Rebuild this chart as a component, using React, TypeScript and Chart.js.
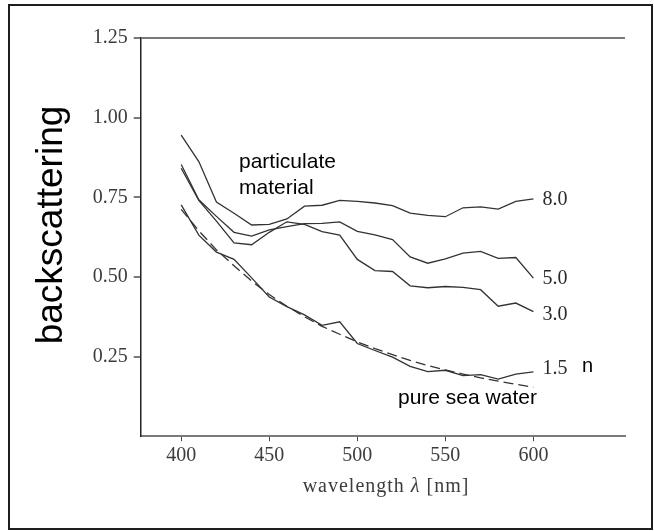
import React, { useEffect, useRef } from "react";
import { Chart, registerables } from "chart.js";

Chart.register(...registerables);

// ---- data ----
const WAVELENGTHS = [400, 410, 420, 430, 440, 450, 460, 470, 480, 490, 500, 510, 520, 530, 540, 550, 560, 570, 580, 590, 600];

const N_8_0 = [0.945, 0.862, 0.735, 0.700, 0.663, 0.665, 0.682, 0.722, 0.725, 0.740, 0.737, 0.732, 0.724, 0.700, 0.693, 0.689, 0.717, 0.720, 0.713, 0.737, 0.745];
const N_5_0 = [0.853, 0.742, 0.690, 0.640, 0.628, 0.648, 0.658, 0.667, 0.668, 0.673, 0.643, 0.632, 0.617, 0.563, 0.543, 0.557, 0.575, 0.580, 0.558, 0.561, 0.496];
const N_3_0 = [0.841, 0.740, 0.675, 0.607, 0.601, 0.640, 0.673, 0.665, 0.642, 0.631, 0.555, 0.520, 0.517, 0.472, 0.466, 0.470, 0.467, 0.460, 0.408, 0.418, 0.391];
const N_1_5 = [0.726, 0.631, 0.578, 0.555, 0.497, 0.437, 0.407, 0.381, 0.348, 0.359, 0.291, 0.269, 0.248, 0.219, 0.203, 0.207, 0.190, 0.193, 0.179, 0.195, 0.202];
const SEA_WATER = [0.712, 0.645, 0.585, 0.535, 0.487, 0.445, 0.408, 0.375, 0.345, 0.320, 0.296, 0.275, 0.256, 0.238, 0.222, 0.208, 0.195, 0.183, 0.173, 0.163, 0.154];

const SERIES = [N_8_0, N_5_0, N_3_0, N_1_5];
const SERIES_LABELS = ["8.0", "5.0", "3.0", "1.5"];
const LABEL_DY = [1, 1, 3, -3];

const X_TICKS = [400, 450, 500, 550, 600];
const Y_TICKS = [0.25, 0.5, 0.75, 1.0, 1.25];
const X_MIN = 377;
const X_MAX = 652;
const Y_MIN = 0;
const Y_MAX = 1.25;

const Y_TITLE = "backscattering";
const X_TITLE_PARTS = ["wavelength ", "\u03bb", " [nm]"];
const ANNOT_PARTICULATE = ["particulate", "material"];
const ANNOT_WATER = "pure sea water";
const ANNOT_N = "n";

const LINE_COLOR = "#333333";
const SERIF = '"Liberation Serif", "DejaVu Serif", serif';
const SANS = '"Liberation Sans", Arial, sans-serif';

const toPoints = (vals: number[]) => vals.map((v, i) => ({ x: WAVELENGTHS[i], y: v }));

const annotationsPlugin = {
  id: "annotations",
  afterDraw(chart: any) {
    const ctx = chart.ctx as CanvasRenderingContext2D;
    const xs = chart.scales.x;
    const ys = chart.scales.y;
    ctx.save();

    // outer frame
    ctx.strokeStyle = "#1e1e1e";
    ctx.lineWidth = 2;
    ctx.strokeRect(9, 5, 643, 524);

    // y title
    ctx.save();
    ctx.translate(52, 225);
    ctx.rotate(-Math.PI / 2);
    ctx.fillStyle = "#000";
    ctx.font = `37px ${SANS}`;
    ctx.textAlign = "center";
    ctx.textBaseline = "middle";
    ctx.fillText(Y_TITLE, 0, 0);
    ctx.restore();

    // x title (with italic lambda)
    ctx.fillStyle = "#3c3c3c";
    ctx.textBaseline = "alphabetic";
    ctx.textAlign = "left";
    const fonts = [`20px ${SERIF}`, `italic 20px ${SERIF}`, `20px ${SERIF}`];
    (ctx as any).letterSpacing = "1px";
    let total = 0;
    const widths = X_TITLE_PARTS.map((p, i) => {
      ctx.font = fonts[i];
      const w = ctx.measureText(p).width;
      total += w;
      return w;
    });
    let tx = 386 - total / 2;
    X_TITLE_PARTS.forEach((p, i) => {
      ctx.font = fonts[i];
      ctx.fillText(p, tx, 492);
      tx += widths[i];
    });
    (ctx as any).letterSpacing = "0px";

    // series labels at the line ends
    ctx.fillStyle = "#2a2a2a";
    ctx.font = `20px ${SERIF}`;
    ctx.textBaseline = "middle";
    const xEnd = xs.getPixelForValue(WAVELENGTHS[WAVELENGTHS.length - 1]);
    SERIES.forEach((s, i) => {
      const yEnd = ys.getPixelForValue(s[s.length - 1]);
      ctx.fillText(SERIES_LABELS[i], xEnd + 9, yEnd + LABEL_DY[i]);
    });

    // sans annotations
    ctx.fillStyle = "#000";
    ctx.font = `21px ${SANS}`;
    ctx.textBaseline = "alphabetic";
    ctx.fillText(ANNOT_PARTICULATE[0], 239, 168);
    ctx.fillText(ANNOT_PARTICULATE[1], 239, 194);
    ctx.fillText(ANNOT_WATER, 398, 404);
    ctx.font = `20px ${SANS}`;
    ctx.fillText(ANNOT_N, 582, 372);

    ctx.restore();
  },
};

export default function App() {
  const canvasRef = useRef<HTMLCanvasElement | null>(null);

  useEffect(() => {
    if (!canvasRef.current) return;
    const lineDs = (vals: number[], dash: number[] = []) => ({
      data: toPoints(vals),
      borderColor: LINE_COLOR,
      borderWidth: 1.3,
      borderDash: dash,
      pointRadius: 0,
      fill: false,
      tension: 0,
    });
    const chart = new Chart(canvasRef.current, {
      type: "line",
      data: {
        datasets: [
          lineDs(N_8_0),
          lineDs(N_5_0),
          lineDs(N_3_0),
          lineDs(N_1_5),
          lineDs(SEA_WATER, [10, 5]),
        ],
      },
      options: {
        animation: false,
        responsive: false,
        maintainAspectRatio: false,
        layout: { padding: { left: 0, right: 29, top: 38, bottom: 0 } },
        plugins: { legend: { display: false }, tooltip: { enabled: false } },
        scales: {
          x: {
            type: "linear",
            min: X_MIN,
            max: X_MAX,
            afterBuildTicks: (s: any) => {
              s.ticks = X_TICKS.map((v) => ({ value: v }));
            },
            afterFit: (s: any) => {
              s.height = 94.8;
            },
            border: { color: "#7a7a7a", width: 2 },
            grid: {
              drawOnChartArea: false,
              drawTicks: true,
              tickLength: 5,
              tickColor: "#444",
              tickWidth: 1,
            },
            ticks: {
              autoSkip: false,
              maxRotation: 0,
              padding: 3,
              color: "#3c3c3c",
              font: { family: SERIF, size: 20 },
              callback: (v: any) => String(v),
            },
          },
          y: {
            type: "linear",
            min: Y_MIN,
            max: Y_MAX,
            afterBuildTicks: (s: any) => {
              s.ticks = Y_TICKS.map((v) => ({ value: v }));
            },
            afterFit: (s: any) => {
              s.width = 140.7;
            },
            border: { color: "#222", width: 1.5 },
            grid: {
              drawOnChartArea: true,
              drawTicks: true,
              tickLength: 7,
              color: (c: any) => (c.tick && c.tick.value === 1.25 ? "#7a7a7a" : "rgba(0,0,0,0)"),
              lineWidth: 2,
              tickColor: (c: any) => (c.tick && c.tick.value === 1.25 ? "#7a7a7a" : "#222"),
              tickWidth: (c: any) => (c.tick && c.tick.value === 1.25 ? 2 : 1.2),
            },
            ticks: {
              padding: 6,
              color: "#3c3c3c",
              font: { family: SERIF, size: 20 },
              callback: (v: any) => Number(v).toFixed(2),
            },
          },
        },
      },
      plugins: [annotationsPlugin],
    } as any);
    return () => chart.destroy();
  }, []);

  return (
    <div style={{ position: "fixed", left: 0, top: 0, width: 654, height: 531, background: "#fff" }}>
      <canvas ref={canvasRef} width={654} height={531} style={{ width: 654, height: 531, display: "block" }} />
    </div>
  );
}
